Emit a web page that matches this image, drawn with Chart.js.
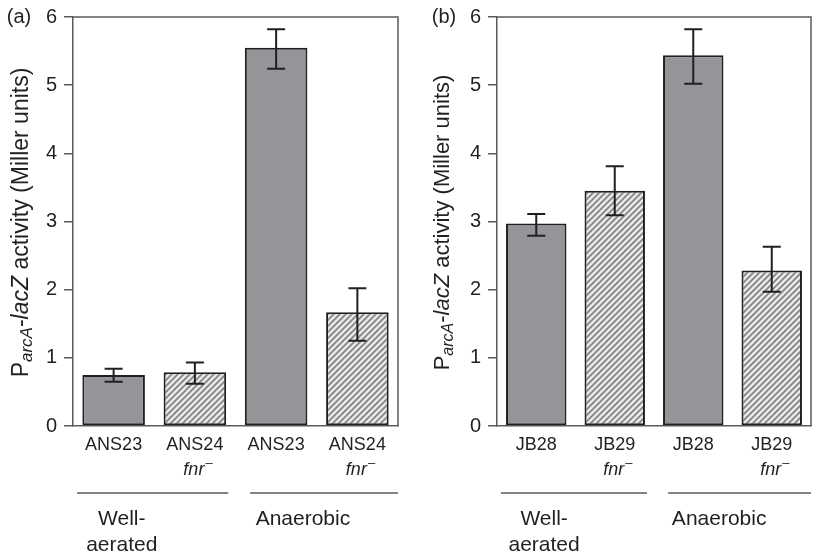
<!DOCTYPE html>
<html>
<head>
<meta charset="utf-8">
<script src="https://cdn.jsdelivr.net/npm/chart.js@4/dist/chart.umd.min.js"></script>
<style>
  html, body { margin: 0; padding: 0; background: #fff; }
  .panel { position: absolute; top: 0; height: 555px; }
  #boxA { left: 0; width: 402px; }
  #boxB { left: 402px; width: 413px; }
</style>
</head>
<body>
<div class="panel" id="boxA"><canvas id="chartA"></canvas></div>
<div class="panel" id="boxB"><canvas id="chartB"></canvas></div>
<script>
// Werte
const categoriesA = ["ANS23", "ANS24", "ANS23", "ANS24"];
const categoriesB = ["JB28", "JB29", "JB28", "JB29"];
const mutant = [false, true, false, true];   // fnr- Stämme (schraffiert)
const valuesA = [0.75, 0.79, 5.55, 1.67];
const errLowA = [0.65, 0.62, 5.24, 1.25];
const errHighA = [0.84, 0.93, 5.82, 2.02];
const valuesB = [2.97, 3.45, 5.44, 2.28];
const errLowB = [2.79, 3.09, 5.02, 1.97];
const errHighB = [3.11, 3.81, 5.82, 2.63];
const yTicks = [0, 1, 2, 3, 4, 5, 6];
const groupLabels = [["Well-", "aerated"], ["Anaerobic"]];
const mutantLabel = "fnr";

const FONT = "'Liberation Sans', Arial, sans-serif";
const INK = "#231f20";
const AXIS = "#5a5b5d";

function schraffur() {
  const c = document.createElement("canvas");
  c.width = 6; c.height = 6;
  const g = c.getContext("2d");
  g.fillStyle = "#e8e8e8";
  g.fillRect(0, 0, 6, 6);
  g.strokeStyle = "#838383";
  g.lineWidth = 1.7;
  g.beginPath();
  g.moveTo(-1, 7); g.lineTo(7, -1);
  g.moveTo(-1, 1); g.lineTo(1, -1);
  g.moveTo(5, 7); g.lineTo(7, 5);
  g.stroke();
  return g.createPattern(c, "repeat");
}

const errorBars = {
  id: "errorBars",
  afterDatasetsDraw(chart, args, opts) {
    const ctx = chart.ctx;
    const y = chart.scales.y;
    const meta = chart.getDatasetMeta(0);
    ctx.save();
    ctx.strokeStyle = INK;
    ctx.lineWidth = 2;
    meta.data.forEach((bar, i) => {
      const top = y.getPixelForValue(opts.high[i]);
      const bot = y.getPixelForValue(opts.low[i]);
      ctx.beginPath();
      ctx.moveTo(bar.x, top); ctx.lineTo(bar.x, bot);
      ctx.moveTo(bar.x - 9, top); ctx.lineTo(bar.x + 9, top);
      ctx.moveTo(bar.x - 9, bot); ctx.lineTo(bar.x + 9, bot);
      ctx.stroke();
    });
    ctx.restore();
  }
};

function yTitle(ctx, cx, cy, size) {
  const parts = [
    { t: "P", f: size + "px " + FONT, dy: 0 },
    { t: "arcA", f: "italic " + Math.round(size * 0.72) + "px " + FONT, dy: size * 0.25 },
    { t: "-", f: size + "px " + FONT, dy: 0 },
    { t: "lacZ", f: "italic " + size + "px " + FONT, dy: 0 },
    { t: " activity (Miller units)", f: size + "px " + FONT, dy: 0 }
  ];
  let total = 0;
  parts.forEach(p => { ctx.font = p.f; p.w = ctx.measureText(p.t).width; total += p.w; });
  ctx.save();
  ctx.translate(cx, cy);
  ctx.rotate(-Math.PI / 2);
  ctx.fillStyle = INK;
  ctx.textBaseline = "middle";
  ctx.textAlign = "left";
  let x = -total / 2;
  parts.forEach(p => {
    ctx.font = p.f;
    ctx.fillText(p.t, x, p.dy);
    x += p.w;
  });
  ctx.restore();
}

const decor = {
  id: "decor",
  afterDraw(chart, args, opts) {
    const ctx = chart.ctx;
    const area = chart.chartArea;
    const xs = chart.scales.x;
    const catW = (area.right - area.left) / xs.ticks.length;
    const c = i => xs.getPixelForValue(i);
    ctx.save();
    // Rahmen oben und rechts
    ctx.strokeStyle = AXIS;
    ctx.lineWidth = 1.5;
    ctx.beginPath();
    ctx.moveTo(area.left, area.top); ctx.lineTo(area.right, area.top);
    ctx.lineTo(area.right, area.bottom);
    ctx.stroke();

    // Panelbuchstabe
    ctx.fillStyle = INK;
    ctx.font = "20px " + FONT;
    ctx.textAlign = "center";
    ctx.textBaseline = "middle";
    ctx.fillText(opts.panel, opts.panelX, area.top);

    yTitle(ctx, opts.titleX, (area.top + area.bottom) / 2 + 1, opts.titleSize);

    // fnr- unter den Mutanten
    mutant.forEach((m, i) => {
      if (!m) return;
      ctx.font = "italic 18px " + FONT;
      ctx.textAlign = "center";
      ctx.fillText(mutantLabel, c(i) - 1, 470);
      const w = ctx.measureText(mutantLabel).width;
      ctx.font = "13px " + FONT;
      ctx.textAlign = "left";
      ctx.fillText("\u2013", c(i) - 1 + w / 2 + 1, 463);
    });
    ctx.textAlign = "center";

    // Gruppenlinien
    ctx.strokeStyle = AXIS;
    ctx.lineWidth = 1.5;
    ctx.beginPath();
    ctx.moveTo(c(0) - 0.45 * catW, 493); ctx.lineTo(c(1) + 0.41 * catW, 493);
    ctx.moveTo(c(2) - 0.32 * catW, 493); ctx.lineTo(c(3) + 0.5 * catW, 493);
    ctx.stroke();

    ctx.font = "21px " + FONT;
    groupLabels[0].forEach((t, k) => ctx.fillText(t, c(0) + 0.1 * catW, 519 + k * 26));
    groupLabels[1].forEach((t, k) => ctx.fillText(t, c(2) + 0.33 * catW, 519 + k * 26));
    ctx.restore();
  }
};

function zeichnePanel(id, labels, values, low, high, yWidth, panel, panelX, titleX, titleSize) {
  const hatch = schraffur();
  return new Chart(document.getElementById(id), {
    type: "bar",
    data: {
      labels: labels,
      datasets: [{
        data: values,
        backgroundColor: mutant.map(m => m ? hatch : "#939598"),
        borderColor: INK,
        borderWidth: 2,
        borderSkipped: false,
        barPercentage: 0.77,
        categoryPercentage: 1
      }]
    },
    options: {
      responsive: true,
      maintainAspectRatio: false,
      animation: false,
      layout: { padding: { top: 17, right: 4, left: 0, bottom: 0 } },
      plugins: {
        legend: { display: false },
        tooltip: { enabled: false },
        errorBars: { low: low, high: high },
        decor: { panel: panel, panelX: panelX, titleX: titleX, titleSize: titleSize }
      },
      scales: {
        x: {
          grid: { display: false },
          border: { display: true, color: AXIS, width: 1.5 },
          ticks: { color: INK, font: { family: FONT, size: 18 }, padding: 0, maxRotation: 0 },
          afterFit: s => { s.height = 129; }
        },
        y: {
          min: 0,
          max: 6,
          afterBuildTicks: s => { s.ticks = yTicks.map(v => ({ value: v })); },
          grid: { drawOnChartArea: false, drawTicks: true, tickLength: 9, color: AXIS, lineWidth: 1.5 },
          border: { display: true, color: AXIS, width: 1.5 },
          ticks: { color: INK, font: { family: FONT, size: 20, lineHeight: 1 }, padding: 7 },
          afterFit: s => { s.width = yWidth; }
        }
      }
    },
    plugins: [errorBars, decor]
  });
}

zeichnePanel("chartA", categoriesA, valuesA, errLowA, errHighA, 73, "(a)", 19, 22, 23);
zeichnePanel("chartB", categoriesB, valuesB, errLowB, errHighB, 95, "(b)", 42, 41, 22);
</script>
</body>
</html>
